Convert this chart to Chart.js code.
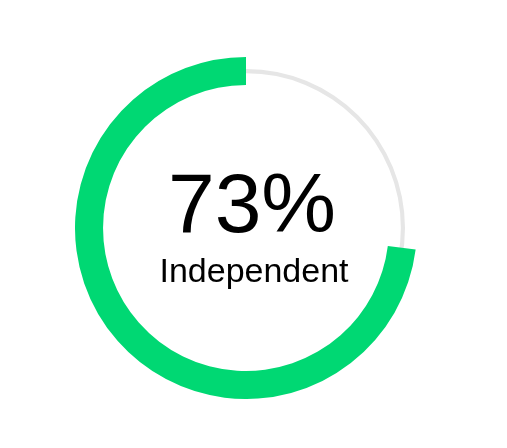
<!DOCTYPE html>
<html>
<head>
<meta charset="utf-8">
<script src="https://cdn.jsdelivr.net/npm/chart.js@4"></script>
<style>
  html, body { margin: 0; padding: 0; background: #ffffff; }
  body { width: 507px; height: 448px; position: relative; overflow: hidden; }
  .ring { position: absolute; left: 75px; top: 57px; width: 342px; height: 342px; }
  .txt { position: absolute; width: 508px; text-align: center; color: #000; font-family: "Liberation Sans", Arial, sans-serif; white-space: nowrap; }
  #big { left: -2px; top: 161px; font-size: 84px; line-height: 84px; }
  #lab { left: 0; top: 253px; font-size: 34px; line-height: 34px; }
</style>
</head>
<body>
<div class="ring"><canvas id="track"></canvas></div>
<div class="ring"><canvas id="gauge"></canvas></div>
<div class="txt" id="big"></div>
<div class="txt" id="lab"></div>
<script>
// Data
const categories = ['Remaining', 'Independent'];
const values = [27, 73];
const trackValues = [100];
const valueLabel = '73%';
const categoryLabel = 'Independent';

const green = '#00d873';
const gray = '#e6e6e6';

document.getElementById('big').textContent = valueLabel;
document.getElementById('lab').textContent = categoryLabel;

const common = {
  responsive: true,
  maintainAspectRatio: false,
  animation: false,
  events: [],
  layout: { padding: 0 },
  plugins: { legend: { display: false }, tooltip: { enabled: false }, title: { display: false } }
};

new Chart(document.getElementById('track'), {
  type: 'doughnut',
  data: { labels: ['Track'], datasets: [{ data: trackValues, backgroundColor: [gray], borderWidth: 0 }] },
  options: Object.assign({}, common, { radius: 159, cutout: '97.4%' })
});

new Chart(document.getElementById('gauge'), {
  type: 'doughnut',
  data: { labels: categories, datasets: [{ data: values, backgroundColor: ['rgba(0,0,0,0)', green], borderWidth: 0 }] },
  options: Object.assign({}, common, { radius: 171, cutout: '83.6%' })
});
</script>
</body>
</html>
